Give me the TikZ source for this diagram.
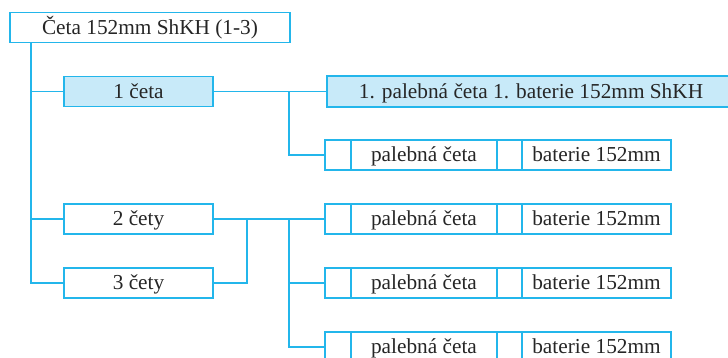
\documentclass[tikz,border=0pt]{standalone}
\usepackage{fontspec}
\setmainfont{Liberation Serif}
\definecolor{lc}{RGB}{35,182,235}
\definecolor{fc}{RGB}{200,234,249}
\tikzset{
  box/.style={draw=lc, line width=1.6pt, inner sep=0pt, minimum height=30pt, text=black!85,
    text height=17pt, text depth=4pt,
    font=\fontsize{21.3}{24}\selectfont, anchor=center},
  filled/.style={box, fill=fc},
  conn/.style={draw=lc, line width=1.6pt}
}
\begin{document}
\begin{tikzpicture}[x=1pt,y=-1pt]
\useasboundingbox (0,0) rectangle (728,357);
\clip (0,0) rectangle (728,357);
\fill[white] (0,0) rectangle (728,357);
\coordinate (trunk) at (31,0);
\coordinate (ja) at (289,0);
\coordinate (jb) at (247,0);
\node[box, minimum width=280pt] (top) at (150,27.5) {Četa 152mm ShKH (1-3)};
\node[filled, minimum width=149pt] (c1) at (138.5,91.5) {1 četa};
\node[box, minimum width=149pt] (c2) at (138.5,219) {2 čety};
\node[box, minimum width=149pt] (c3) at (138.5,283) {3 čety};
\node[filled, minimum width=408pt, minimum height=31pt] (big) at (531,91.5) {1. palebná četa 1. baterie 152mm ShKH};
\foreach \i/\y in {1/155,2/219,3/283,4/347}{
  \node[box, minimum width=26pt] (r\i a) at (338,\y) {};
  \node[box, minimum width=146pt] (r\i b) at (424,\y) {palebná četa};
  \node[box, minimum width=25pt] (r\i c) at (509.5,\y) {};
  \node[box, minimum width=149pt] (r\i d) at (596.5,\y) {baterie 152mm};
}
\draw[conn] (top.south -| trunk) |- (c1.west);
\draw[conn] (top.south -| trunk) |- (c2.west);
\draw[conn] (top.south -| trunk) |- (c3.west);
\draw[conn] (c1.east) -- (big.west);
\draw[conn] (c1.east -| ja) |- (r1a.west);
\draw[conn] (c2.east) -- (r2a.west);
\draw[conn] (c3.east) -| (c2.east -| jb);
\draw[conn] (c2.east -| ja) |- (r3a.west);
\draw[conn] (c2.east -| ja) |- (r4a.west);
\end{tikzpicture}
\end{document}
